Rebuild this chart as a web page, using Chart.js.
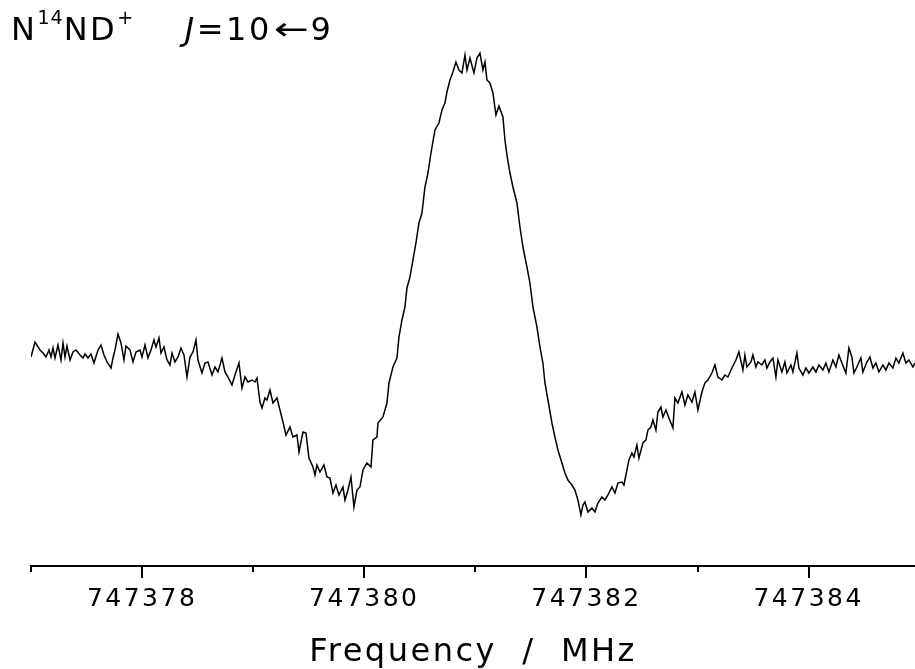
<!DOCTYPE html>
<html>
<head>
<meta charset="utf-8">
<script src="https://cdn.jsdelivr.net/npm/chart.js"></script>
<style>
  body { margin: 0; background: #fff; }
  #wrap { position: relative; width: 915px; height: 669px; }
  #title {
    position: absolute; left: 11px; top: 13px;
    font-family: "DejaVu Sans", sans-serif; font-size: 32px; line-height: 32px;
    letter-spacing: 2.5px; color: #000; white-space: pre;
  }
  #title .sup { font-size: 19px; position: relative; top: -16px; letter-spacing: 1px; }
  #title .arr { letter-spacing: 0; display: inline-block; transform: scaleX(1.3); margin: 0 6px; }
</style>
</head>
<body>
<div id="wrap">
  <canvas id="chart"></canvas>
  <div id="title">N<span class="sup">14</span>ND<span class="sup">+</span>    <i>J</i>=10<span class="arr">←</span>9</div>
</div>
<script>
// frequency (MHz)
const freq = [
  747377.000, 747377.036, 747377.081, 747377.108, 747377.135, 747377.162, 747377.180, 747377.198, 747377.216, 747377.243,
  747377.270, 747377.288, 747377.306, 747377.324, 747377.351, 747377.378, 747377.405, 747377.441, 747377.468, 747377.486,
  747377.513, 747377.540, 747377.567, 747377.603, 747377.630, 747377.657, 747377.684, 747377.720, 747377.738, 747377.756,
  747377.783, 747377.810, 747377.837, 747377.855, 747377.891, 747377.918, 747377.945, 747377.981, 747377.999, 747378.026,
  747378.053, 747378.080, 747378.107, 747378.125, 747378.152, 747378.170, 747378.197, 747378.224, 747378.251, 747378.269,
  747378.296, 747378.323, 747378.350, 747378.377, 747378.404,
  747378.431, 747378.458, 747378.485, 747378.503, 747378.539, 747378.566, 747378.593, 747378.629, 747378.656, 747378.683,
  747378.719, 747378.746, 747378.773, 747378.809, 747378.836, 747378.872, 747378.899, 747378.926, 747378.953, 747378.989,
  747379.016, 747379.034, 747379.061, 747379.079, 747379.106, 747379.124, 747379.151, 747379.178, 747379.214, 747379.241,
  747379.268, 747379.295, 747379.331, 747379.358, 747379.394, 747379.412, 747379.448, 747379.475, 747379.502, 747379.538,
  747379.556, 747379.574, 747379.601, 747379.637, 747379.664, 747379.691, 747379.718, 747379.745, 747379.772, 747379.808,
  747379.826, 747379.853, 747379.880, 747379.907,
  747379.934, 747379.961, 747379.988, 747380.024, 747380.060, 747380.078, 747380.114, 747380.123, 747380.168, 747380.204,
  747380.222, 747380.258, 747380.294, 747380.312, 747380.339, 747380.366, 747380.384, 747380.411, 747380.438, 747380.465,
  747380.492, 747380.519, 747380.546, 747380.573, 747380.600, 747380.636, 747380.672, 747380.699, 747380.726, 747380.744,
  747380.771, 747380.798, 747380.825, 747380.852, 747380.879, 747380.906, 747380.924, 747380.951, 747380.987, 747381.014,
  747381.041, 747381.068, 747381.086, 747381.104, 747381.131, 747381.158, 747381.185, 747381.212, 747381.248, 747381.266,
  747381.284, 747381.311, 747381.338, 747381.374, 747381.401, 747381.428, 747381.464, 747381.491, 747381.518, 747381.554,
  747381.581, 747381.608, 747381.626, 747381.653, 747381.689, 747381.716, 747381.743, 747381.779, 747381.806, 747381.833,
  747381.869, 747381.896, 747381.923, 747381.950,
  747381.968, 747381.986, 747382.013, 747382.049, 747382.076, 747382.103, 747382.139, 747382.166, 747382.193, 747382.229,
  747382.256, 747382.283, 747382.319, 747382.337, 747382.364, 747382.382, 747382.409, 747382.427, 747382.454, 747382.472,
  747382.508, 747382.535, 747382.553, 747382.580, 747382.598, 747382.625, 747382.643, 747382.670, 747382.688, 747382.715,
  747382.742, 747382.778, 747382.796, 747382.823, 747382.859, 747382.886, 747382.913, 747382.949, 747382.976, 747383.003,
  747383.039, 747383.066, 747383.093, 747383.129, 747383.156, 747383.183, 747383.219, 747383.246, 747383.273, 747383.309,
  747383.345, 747383.372,
  747383.408, 747383.426, 747383.444, 747383.480, 747383.498, 747383.525, 747383.543, 747383.579, 747383.606, 747383.624,
  747383.651, 747383.678, 747383.705, 747383.723, 747383.759, 747383.786, 747383.804, 747383.840, 747383.858, 747383.894,
  747383.912, 747383.948, 747383.975, 747384.002, 747384.038, 747384.065, 747384.092, 747384.128, 747384.155, 747384.182,
  747384.218, 747384.245, 747384.272, 747384.299, 747384.335, 747384.362, 747384.389, 747384.407, 747384.434, 747384.470,
  747384.488, 747384.524, 747384.551, 747384.578, 747384.605, 747384.632, 747384.668, 747384.695, 747384.722, 747384.758,
  747384.785, 747384.812, 747384.848, 747384.875, 747384.902, 747384.938, 747384.956
];

// signal (arbitrary units)
const signal = [
  -0.02, 0.13, 0.05, 0.02, -0.02, 0.05, -0.02, 0.07, -0.03, 0.10,
  -0.05, 0.12, -0.02, 0.09, -0.05, 0.03, 0.05, 0.00, -0.03, 0.01,
  -0.03, 0.01, -0.08, 0.05, 0.10, 0.00, -0.07, -0.13, -0.03, 0.05,
  0.21, 0.12, -0.05, 0.09, 0.05, -0.07, 0.03, 0.05, -0.02, 0.10,
  -0.03, 0.05, 0.15, 0.08, 0.17, 0.02, 0.08, -0.05, -0.10, 0.02,
  -0.07, -0.02, 0.07, 0.00, -0.22,
  -0.02, 0.03, 0.15, -0.05, -0.18, -0.08, -0.07, -0.20, -0.12, -0.17,
  -0.03, -0.17, -0.22, -0.30, -0.20, -0.08, -0.33, -0.22, -0.27, -0.25,
  -0.27, -0.23, -0.47, -0.53, -0.43, -0.45, -0.35, -0.48, -0.43, -0.55,
  -0.67, -0.80, -0.72, -0.82, -0.80, -0.97, -0.77, -0.78, -1.03, -1.12,
  -1.20, -1.10, -1.17, -1.10, -1.22, -1.23, -1.38, -1.30, -1.40, -1.32,
  -1.45, -1.35, -1.22, -1.52,
  -1.35, -1.32, -1.15, -1.08, -1.12, -0.85, -0.82, -0.68, -0.62, -0.48,
  -0.28, -0.12, -0.03, 0.18, 0.35, 0.48, 0.67, 0.78, 0.95, 1.12,
  1.32, 1.42, 1.68, 1.82, 2.02, 2.25, 2.32, 2.45, 2.52, 2.63,
  2.75, 2.83, 2.93, 2.85, 2.82, 3.00, 2.85, 2.97, 2.82, 2.97,
  3.02, 2.85, 2.93, 2.75, 2.72, 2.62, 2.40, 2.49, 2.38, 2.15,
  2.00, 1.82, 1.68, 1.52, 1.28, 1.08, 0.88, 0.72, 0.48, 0.28,
  0.08, -0.08, -0.28, -0.45, -0.68, -0.82, -0.95, -1.08, -1.18, -1.25,
  -1.30, -1.35, -1.45, -1.60,
  -1.50, -1.47, -1.57, -1.53, -1.57, -1.48, -1.42, -1.45, -1.40, -1.32,
  -1.38, -1.28, -1.27, -1.30, -1.15, -1.05, -0.98, -1.02, -0.90, -1.03,
  -0.88, -0.85, -0.75, -0.72, -0.65, -0.75, -0.57, -0.52, -0.62, -0.55,
  -0.63, -0.73, -0.43, -0.48, -0.37, -0.50, -0.40, -0.47, -0.37, -0.55,
  -0.37, -0.28, -0.25, -0.18, -0.10, -0.22, -0.25, -0.20, -0.22, -0.13,
  -0.05, 0.03,
  -0.15, 0.00, -0.12, -0.07, 0.00, -0.12, -0.07, -0.10, -0.05, -0.13,
  -0.07, -0.03, -0.22, -0.05, -0.17, -0.07, -0.18, -0.10, -0.17, 0.02,
  -0.13, -0.20, -0.13, -0.18, -0.12, -0.17, -0.10, -0.15, -0.08, -0.17,
  -0.05, -0.12, 0.00, -0.08, -0.18, 0.07, -0.02, -0.18, -0.12, -0.03,
  -0.17, -0.07, -0.02, -0.13, -0.08, -0.17, -0.10, -0.15, -0.08, -0.13,
  -0.03, -0.08, 0.02, -0.08, -0.05, -0.12, -0.08
];

// labelled (major) ticks; every integer MHz gets a short tick
const tickLabels = [747378, 747380, 747382, 747384];
const xMin = 747377, xMax = 747384.957;
const yMin = -2.11, yMax = 3.55;
const xTitle = 'Frequency  /  MHz';

const points = freq.map((f, i) => ({ x: f, y: signal[i] }));

// long ticks on labelled values, short ones in between
const tickMarks = {
  id: 'tickMarks',
  beforeDraw(chart) {
    chart.ctx.letterSpacing = '2.5px';
  },
  afterDraw(chart) {
    const scale = chart.scales.x;
    const ctx = chart.ctx;
    ctx.save();
    ctx.strokeStyle = '#000';
    ctx.lineWidth = 2;
    scale.ticks.forEach(t => {
      if (Math.abs(t.value - Math.round(t.value)) > 1e-6) return;
      const px = Math.round(scale.getPixelForValue(t.value));
      const len = tickLabels.includes(Math.round(t.value)) ? 12 : 6;
      ctx.beginPath();
      ctx.moveTo(px, scale.top);
      ctx.lineTo(px, scale.top + len);
      ctx.stroke();
    });
    ctx.restore();
  }
};

new Chart(document.getElementById('chart'), {
  type: 'line',
  data: {
    datasets: [{
      data: points,
      borderColor: '#000',
      borderWidth: 1.5,
      pointRadius: 0,
      tension: 0,
      fill: false
    }]
  },
  options: {
    responsive: true,
    maintainAspectRatio: false,
    animation: false,
    layout: { padding: { left: 31, right: 0, top: 0, bottom: 0 } },
    plugins: { legend: { display: false }, tooltip: { enabled: false } },
    scales: {
      x: {
        type: 'linear',
        min: xMin,
        max: xMax,
        afterFit: s => { s.height = 103; s.paddingRight = 0; },
        border: { display: true, color: '#000', width: 2 },
        grid: { drawOnChartArea: false, drawTicks: true, tickLength: 12, tickColor: 'rgba(0,0,0,0)' },
        ticks: {
          stepSize: 1,
          includeBounds: false,
          autoSkip: false,
          maxRotation: 0,
          padding: 6,
          color: '#000',
          font: { family: 'DejaVu Sans', size: 25 },
          callback: v => tickLabels.includes(Math.round(v)) && Math.abs(v - Math.round(v)) < 1e-6 ? String(Math.round(v)) : ''
        },
        title: {
          display: true,
          text: xTitle,
          color: '#000',
          font: { family: 'DejaVu Sans', size: 32, lineHeight: 1 },
          padding: { top: 0, bottom: 0 }
        }
      },
      y: { display: false, min: yMin, max: yMax }
    }
  },
  plugins: [tickMarks]
});
</script>
</body>
</html>
